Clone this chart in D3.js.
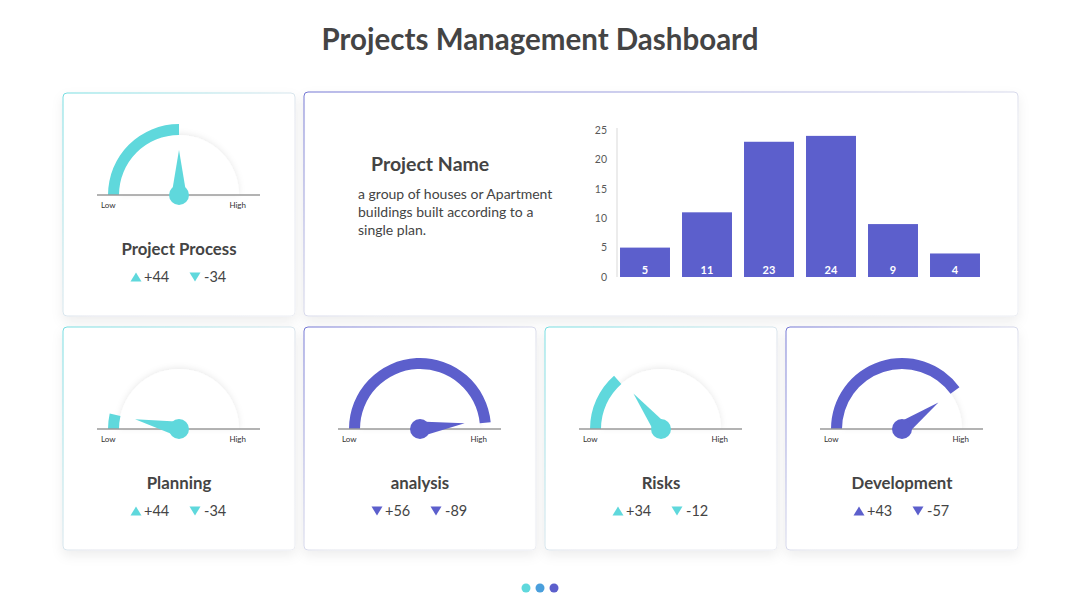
<!DOCTYPE html>
<html>
<head>
<meta charset="utf-8">
<script src="https://cdn.jsdelivr.net/npm/d3@7"></script>
<style>
  html, body { margin: 0; padding: 0; background: #fff; }
  svg { display: block; font-family: Lato, "Open Sans", sans-serif; }
</style>
</head>
<body>
<div id="chart"></div>
<script>
// gauges
var gaugeTitles = ["Project Process", "Planning", "analysis", "Risks", "Development"];
var gaugeValues = [50, 7, 97, 27, 80];
var needleValues = [50, 7, 96, 29, 80];
var gaugeThemes = ["teal", "teal", "purple", "teal", "purple"];
var upLabels = ["+44", "+44", "+56", "+34", "+43"];
var upArrows = ["up", "up", "down", "up", "up"];
var downLabels = ["-34", "-34", "-89", "-12", "-57"];

// bar chart
var barIndex = [0, 1, 2, 3, 4, 5];
var barValues = [5, 11, 23, 24, 9, 4];
var yTicks = [0, 5, 10, 15, 20, 25];

var projectName = "Project Name";
var projectText = ["a group of houses or Apartment", "buildings built according to a", "single plan."];

var colors = {teal: "#5fd8dc", purple: "#5c5fcc"};
var textColor = "#444";

var width = 1080, height = 608;

var svg = d3.select("#chart").append("svg")
    .attr("width", width)
    .attr("height", height);

var defs = svg.append("defs");

var shadow = defs.append("filter").attr("id", "cardShadow")
    .attr("x", "-20%").attr("y", "-20%").attr("width", "140%").attr("height", "150%");
shadow.append("feDropShadow")
    .attr("dx", 0).attr("dy", 5).attr("stdDeviation", 6)
    .attr("flood-color", "#000").attr("flood-opacity", 0.07);

var discShadow = defs.append("filter").attr("id", "discShadow")
    .attr("x", "-30%").attr("y", "-30%").attr("width", "160%").attr("height", "160%");
discShadow.append("feDropShadow")
    .attr("dx", 0).attr("dy", -1).attr("stdDeviation", 3)
    .attr("flood-color", "#000").attr("flood-opacity", 0.09);

["teal", "purple"].forEach(function(k) {
  var g = defs.append("linearGradient").attr("id", "border-" + k)
      .attr("x1", "0%").attr("y1", "0%").attr("x2", "100%").attr("y2", "100%");
  g.append("stop").attr("offset", "0%").attr("stop-color", colors[k]).attr("stop-opacity", 0.85);
  g.append("stop").attr("offset", "55%").attr("stop-color", "#e4e6ee").attr("stop-opacity", 1);
  g.append("stop").attr("offset", "100%").attr("stop-color", "#eceef3").attr("stop-opacity", 1);
});

// title
svg.append("text")
    .attr("x", 540).attr("y", 50)
    .attr("text-anchor", "middle")
    .attr("font-size", 29.5).attr("font-weight", 700)
    .attr("fill", textColor)
    .text("Projects Management Dashboard");

function card(x, y, w, h, theme) {
  svg.append("rect")
      .attr("x", x).attr("y", y).attr("width", w).attr("height", h)
      .attr("rx", 4)
      .attr("fill", "#fff")
      .attr("stroke", "url(#border-" + theme + ")")
      .attr("stroke-width", 1)
      .attr("filter", "url(#cardShadow)");
}

// card layout
var cardW = 232, cardH = 223, gap = 9;
var cardPos = [
  {x: 63, y: 93},
  {x: 63, y: 327},
  {x: 63 + cardW + gap, y: 327},
  {x: 63 + 2 * (cardW + gap), y: 327},
  {x: 63 + 3 * (cardW + gap), y: 327}
];

card(63 + cardW + gap, 92, 3 * cardW + 2 * gap, 224, "purple");

var angle = d3.scaleLinear().domain([0, 100]).range([-Math.PI / 2, Math.PI / 2]);
var rIn = 60, rOut = 71;
var arcFill = d3.arc().innerRadius(rIn).outerRadius(rOut).startAngle(-Math.PI / 2);
var disc = d3.arc().innerRadius(0).outerRadius(rIn).startAngle(-Math.PI / 2).endAngle(Math.PI / 2);

function triangle(g, cx, cy, dir, color) {
  var s = 5.5, h = 9;
  var pts = dir === "up"
    ? [[cx - s, cy + h / 2], [cx + s, cy + h / 2], [cx, cy - h / 2]]
    : [[cx - s, cy - h / 2], [cx + s, cy - h / 2], [cx, cy + h / 2]];
  g.append("path").attr("d", "M" + pts.join("L") + "Z").attr("fill", color);
}

gaugeTitles.forEach(function(title, i) {
  var p = cardPos[i];
  var theme = gaugeThemes[i];
  var color = colors[theme];
  card(p.x, p.y, cardW, cardH, theme);

  var cx = p.x + 116, cy = p.y + 102;
  var g = svg.append("g").attr("transform", "translate(" + cx + "," + cy + ")");

  g.append("path").attr("d", disc()).attr("fill", "#fff").attr("filter", "url(#discShadow)");

  g.append("path")
      .attr("d", arcFill.endAngle(angle(gaugeValues[i]))())
      .attr("fill", color);

  g.append("line")
      .attr("x1", -82).attr("x2", 81)
      .attr("y1", 0).attr("y2", 0)
      .attr("stroke", "#9a9a9a").attr("stroke-width", 1.5);

  g.append("text").attr("x", -78).attr("y", 13)
      .attr("font-size", 8).attr("fill", "#333").text("Low");
  g.append("text").attr("x", 67).attr("y", 13).attr("text-anchor", "end")
      .attr("font-size", 8).attr("fill", "#333").text("High");

  // needle
  var a = angle(needleValues[i]);
  var L = 45, w = 7.5;
  var tip = [L * Math.sin(a), -L * Math.cos(a)];
  var b1 = [w * Math.cos(a), w * Math.sin(a)];
  var b2 = [-w * Math.cos(a), -w * Math.sin(a)];
  g.append("path").attr("d", "M" + b1 + "L" + tip + "L" + b2 + "Z").attr("fill", color);
  g.append("circle").attr("r", 10).attr("fill", color);

  svg.append("text")
      .attr("x", cx).attr("y", p.y + 162)
      .attr("text-anchor", "middle")
      .attr("font-size", 16.8).attr("font-weight", 700)
      .attr("fill", textColor)
      .text(title);

  var iy = p.y + 184;
  triangle(svg, cx - 43, iy, upArrows[i], color);
  svg.append("text").attr("x", cx - 35).attr("y", iy + 5)
      .attr("font-size", 14.5).attr("fill", textColor).text(upLabels[i]);
  triangle(svg, cx + 16, iy, "down", color);
  svg.append("text").attr("x", cx + 25).attr("y", iy + 5)
      .attr("font-size", 14.5).attr("fill", textColor).text(downLabels[i]);
});

// project text
svg.append("text")
    .attr("x", 371).attr("y", 171)
    .attr("font-size", 19.5).attr("font-weight", 700)
    .attr("fill", textColor)
    .text(projectName);

svg.append("g").selectAll("text")
    .data(projectText)
    .enter().append("text")
    .attr("x", 358)
    .attr("y", function(d, i) { return 199 + i * 18; })
    .attr("font-size", 14)
    .attr("fill", textColor)
    .text(function(d) { return d; });

// bar chart
var x = d3.scaleBand()
    .domain(barIndex)
    .range([614, 986])
    .paddingInner(0.194)
    .paddingOuter(0.097);

var y = d3.scaleLinear()
    .domain([0, 25])
    .range([277, 130]);

var yAxis = d3.axisLeft(y)
    .tickValues(yTicks)
    .tickSize(0)
    .tickPadding(10);

var axisG = svg.append("g")
    .attr("transform", "translate(617,0)")
    .call(yAxis);
axisG.select(".domain").attr("stroke", "#d9d9d9").attr("d", "M0," + (y(25) - 2) + "V" + y(0));
axisG.selectAll(".tick text")
    .attr("font-family", "Lato, 'Open Sans', sans-serif")
    .attr("font-size", 10.5)
    .attr("fill", "#595959");

svg.selectAll(".bar")
    .data(barValues)
    .enter().append("rect")
    .attr("class", "bar")
    .attr("x", function(d, i) { return x(i); })
    .attr("y", function(d) { return y(d); })
    .attr("width", x.bandwidth())
    .attr("height", function(d) { return y(0) - y(d); })
    .attr("fill", colors.purple);

svg.selectAll(".barLabel")
    .data(barValues)
    .enter().append("text")
    .attr("class", "barLabel")
    .attr("x", function(d, i) { return x(i) + x.bandwidth() / 2; })
    .attr("y", y(0) - 3)
    .attr("text-anchor", "middle")
    .attr("font-size", 11)
    .attr("font-weight", 700)
    .attr("fill", "#fff")
    .text(function(d) { return d; });

// pager dots
var dotColors = [colors.teal, "#4a9fdc", colors.purple];
svg.selectAll(".dot")
    .data(dotColors)
    .enter().append("circle")
    .attr("cx", function(d, i) { return 526 + i * 14; })
    .attr("cy", 588)
    .attr("r", 4.5)
    .attr("fill", function(d) { return d; });
</script>
</body>
</html>
